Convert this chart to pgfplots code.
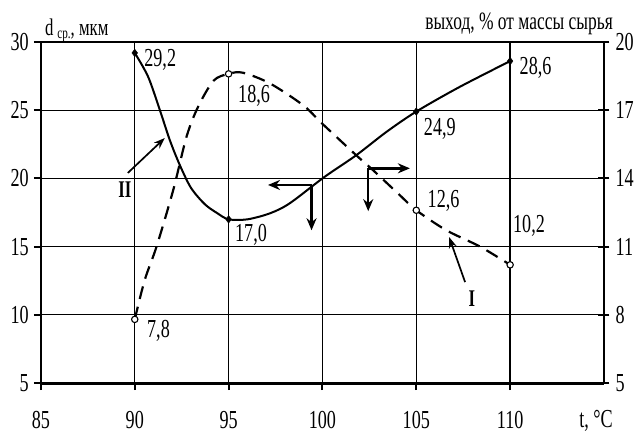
\documentclass[border=0pt]{standalone}
\usepackage{pgfplots}
\pgfplotsset{compat=1.18}
\usepackage{fontspec}
\setmainfont{Liberation Serif}[FakeStretch=0.7]
\usetikzlibrary{arrows.meta}
\begin{document}
\fontsize{26}{30}\selectfont
\begin{tikzpicture}
\pgfplotsset{every axis/.style={
  scale only axis, width=563bp, height=341bp,
  xmin=85, xmax=115,
  /pgf/number format/assume math mode=true,
  tick label style={font=\fontsize{26}{30}\selectfont, inner sep=0pt},
  every tick/.style={black, line width=2bp},
}}
\begin{axis}[
  ymin=5, ymax=30,
  axis x line*=bottom, axis y line*=left,
  x axis line style={line width=3bp},
  y axis line style={line width=2.2bp},
  xtick={85,90,95,100,105,110},
  ytick={5,10,15,20,25,30},
  tick align=outside,
  major tick length=7bp,
  xticklabel style={anchor=north, yshift=-21bp},
  yticklabel style={anchor=east, xshift=-5bp},
  grid=major,
  major grid style={black, line width=1.3bp},
  clip=false,
]
\path (axis cs:82.82,1.26) rectangle (axis cs:116.76,33.08);
% Curve II (solid, left axis)
\addplot[black, line width=2bp, smooth, tension=0.5] coordinates {
 (90,29.2) (90.71,27.46) (91.34,25.0) (91.87,22.8) (92.4,20.98) (93.0,19.3)
 (93.74,18.1) (94.4,17.45) (95,17.0) (96,17.0) (97.2,17.44) (98.25,18.17) (100.1,20.1)
 (101.8,21.7) (103.4,23.4) (105,24.9) (107.3,26.7) (110,28.6)};
\addplot[only marks, mark=diamond*, mark size=3.8bp, black] coordinates {
 (90,29.2) (95,17.0) (105,24.9) (110,28.6)};
% data labels
\begin{scope}[every node/.style={anchor=north west, inner sep=0pt}]
\node at (axis cs:90.5,29.45) {29,2};
\node at (axis cs:95.5,26.85) {18,6};
\node at (axis cs:95.34,16.66) {17,0};
\node at (axis cs:105.4,24.43) {24,9};
\node at (axis cs:110.5,28.9) {28,6};
\node at (axis cs:90.65,9.62) {7,8};
\node at (axis cs:105.6,19.15) {12,6};
\node at (axis cs:110.15,17.3) {10,2};
\end{scope}
% curve names and pointer arrows
\node[font=\bfseries\fontsize{24}{28}\selectfont, inner sep=0pt] at (axis cs:89.47,19.15) {II};
\draw[-{Stealth[length=11bp,width=8bp]}, line width=1.7bp] (axis cs:89.63,20.4) -- (axis cs:91.6,22.96);
\node[font=\bfseries\fontsize{24}{28}\selectfont, inner sep=0pt] at (axis cs:107.96,11.17) {I};
\draw[-{Stealth[length=11bp,width=8bp]}, line width=1.7bp] (axis cs:107.6,12.4) -- (axis cs:106.75,15.7);
% axis direction markers
\draw[-{Stealth[length=12bp,width=10bp]}, line width=2.6bp] (axis cs:99.42,19.52) -- (axis cs:97.1,19.52);
\draw[-{Stealth[length=12bp,width=10bp]}, line width=2.2bp] (axis cs:99.42,19.52) -- (axis cs:99.42,16.2);
\draw[-{Stealth[length=12bp,width=10bp]}, line width=2.6bp] (axis cs:102.44,20.74) -- (axis cs:104.66,20.74);
\draw[-{Stealth[length=12bp,width=10bp]}, line width=2.2bp] (axis cs:102.44,20.74) -- (axis cs:102.44,17.6);
% axis titles
\node[anchor=base west, font=\fontsize{24}{28}\selectfont, inner sep=0pt] at (axis cs:85.21,30.51) {d\,\raisebox{-0.3ex}{\fontsize{16}{18}\selectfont ср.}, мкм};
\node[anchor=base east, inner sep=0pt] at (axis cs:115.48,1.72) {t, °C};
\end{axis}
\begin{axis}[
  ymin=5, ymax=20,
  axis x line=none, axis y line*=right,
  y axis line style={line width=2.2bp},
  ytick={5,8,11,14,17,20},
  tick align=center,
  major tick length=11bp,
  yticklabel style={anchor=west, xshift=6bp},
  clip=false,
]
% Curve I (dashed, right axis)
\addplot[black, line width=2.2bp, dash pattern=on 13bp off 8bp, smooth, tension=0.5] coordinates {
 (90,7.8) (90.53,9.53) (91.16,11.0) (92.05,13.49) (92.76,15.84) (93.38,17.16)
 (94.2,18.3) (95,18.6) (95.76,18.65) (97.2,18.18) (98.97,17.22) (100.0,16.4)
 (101.8,15.02) (102.7,14.36) (104.1,13.28) (105,12.6) (106.6,11.72) (108.4,11.0) (110,10.2)};
\addplot[only marks, mark=*, mark size=3.2bp, mark options={fill=white, line width=1.1bp}, black] coordinates {
 (90,7.8) (95,18.6) (105,12.6) (110,10.2)};
\node[anchor=base east, font=\fontsize{25}{28}\selectfont, inner sep=0pt] at (axis cs:115.48,20.53) {выход, \% от массы сырья};
\end{axis}
\end{tikzpicture}
\end{document}
